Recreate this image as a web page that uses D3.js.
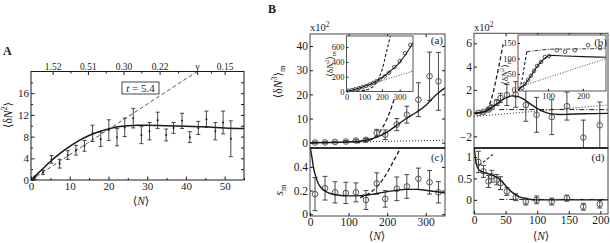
<!DOCTYPE html>
<html>
<head>
<meta charset="utf-8">
<script src="https://cdn.jsdelivr.net/npm/d3@7"></script>
<style>
body { margin: 0; background: #fff; }
text { font-family: "Liberation Serif", "DejaVu Serif", serif; fill: #1a1a1a; }
</style>
</head>
<body>
<svg id="chart"></svg>
<script>
const W = 610, H = 243;
const svg = d3.select('#chart').attr('width', W).attr('height', H);
const ink = '#1a1a1a', grey = '#555';

// ---------- panel A : <dN^2> vs <N> ----------
const aN   = [1.0, 3.1, 5.3, 7.4, 9.5, 11.6, 13.8, 15.9, 18.0, 20.1, 22.2, 24.2, 26.4, 28.5, 30.6, 32.7, 34.9, 36.8, 39.0, 41.0, 43.2, 45.3, 47.6, 49.6, 51.6];
const aVar = [0.4, 1.4, 3.8, 3.0, 4.6, 5.5, 6.3, 8.6, 7.5, 9.2, 7.9, 9.7, 11.4, 8.3, 9.0, 11.0, 8.3, 9.6, 10.9, 7.9, 9.6, 11.2, 9.0, 10.6, 7.6];
const aErr = [0.3, 0.4, 0.7, 0.8, 0.8, 0.9, 1.0, 1.5, 1.3, 1.9, 1.6, 1.7, 1.8, 1.6, 1.6, 1.5, 1.1, 1.0, 1.4, 1.0, 1.2, 1.5, 1.6, 2.1, 3.3];
const aFitN = [0, 2.5, 5, 7.5, 10, 12.5, 15, 17.5, 20, 22.5, 25, 27.5, 30, 35, 40, 45, 50, 55];
const aFitV = [0, 1.7, 3.4, 4.9, 6.2, 7.3, 8.2, 8.9, 9.4, 9.8, 10.0, 10.1, 10.1, 10.0, 9.9, 9.8, 9.6, 9.5];
const aPoisN = [0, 42.9];
const aPoisV = [0, 20];
const aTopN = [5.6, 14.7, 23.9, 33.2, 42.9, 50.0];
const aTopLabels = ['1.52', '0.51', '0.30', '0.22', 'γ', '0.15'];

// ---------- panel B left : (a) third moment, (c) s_m ----------
const bN    = [13, 39, 65, 93, 119, 145, 173, 195, 225, 251, 281, 310, 333];
const bM3   = [0.05, 0.1, 0.3, 0.5, 0.9, 1.2, 4.0, 3.3, 7.5, 11.6, 17.8, 27.5, 25.4];
const bM3e  = [0.3, 0.3, 0.3, 0.4, 0.5, 0.6, 1.5, 2.0, 2.5, 3.5, 7.0, 10.0, 12.0];
const bFitN = [0, 100, 150, 175, 200, 225, 250, 275, 300, 325, 350];
const bFitV = [0, 0.3, 1.2, 2.4, 4.4, 7.2, 10.0, 12.5, 15.4, 19.5, 22.7];
const bDashN = [120, 150, 170, 185, 200, 212, 220];
const bDashV = [0, 0.8, 2.5, 5.5, 10, 15, 19];
const bDotN = [0, 350];
const bDotV = [0, 1.0];
// inset of (a)
const biN = [10, 30, 50, 70, 90, 110, 130, 150, 170, 190, 215, 240, 270, 300, 330, 360];
const biV = [10, 20, 30, 45, 60, 75, 95, 115, 140, 165, 205, 255, 330, 410, 517, 628];
const biFitN = [0, 50, 100, 150, 200, 250, 300, 350, 375];
const biFitV = [0, 30, 68, 115, 185, 280, 395, 560, 660];
const biDashN = [0, 100, 150, 180, 200, 225, 248];
const biDashV = [0, 15, 70, 170, 290, 530, 760];
const biDotN = [0, 375];
const biDotV = [0, 275];
// (c)
const cS    = [0.17, 0.22, 0.185, 0.18, 0.185, 0.12, 0.26, 0.13, 0.215, 0.235, 0.30, 0.27, 0.185];
const cSe   = [0.14, 0.10, 0.09, 0.09, 0.08, 0.08, 0.09, 0.07, 0.10, 0.10, 0.09, 0.10, 0.09];
const cFitN = [1, 5, 10, 15, 20, 30, 45, 70, 100, 130, 160, 190, 220, 250, 275, 300, 325, 350];
const cFitV = [0.56, 0.48, 0.38, 0.32, 0.27, 0.22, 0.185, 0.163, 0.155, 0.157, 0.168, 0.185, 0.2, 0.21, 0.21, 0.203, 0.192, 0.18];
const cDashN = [130, 150, 170, 190, 205, 220, 235];
const cDashV = [0.14, 0.17, 0.22, 0.3, 0.38, 0.47, 0.56];

// ---------- panel B right : (b) third moment, (d) s_m ----------
const dN    = [7, 15, 23, 28, 36, 42, 52, 66, 82, 99, 123, 147, 173, 199];
const dM3   = [0.02, 0.1, 0.3, 0.5, 0.9, 1.3, 1.55, 1.6, 0.7, -0.15, -0.35, 0.6, -2.1, -1.05];
const dM3e  = [0.05, 0.08, 0.12, 0.15, 0.25, 0.4, 0.9, 1.1, 1.4, 1.5, 1.5, 1.2, 1.5, 2.0];
const dFitN = [0, 10, 20, 30, 40, 50, 60, 70, 80, 90, 100, 110, 120, 135, 150, 175, 212];
const dFitV = [0, 0.05, 0.2, 0.55, 0.95, 1.3, 1.48, 1.42, 1.15, 0.75, 0.4, 0.12, -0.05, -0.12, -0.1, -0.05, -0.02];
const dDashN = [0, 15, 20, 25, 30, 35, 40, 46];
const dDashV = [0, 0.1, 0.3, 0.8, 1.7, 2.9, 4.2, 5.9];
const dDotN = [0, 212];
const dDotV = [-0.3, 0.7];
const dDashDotN = [40, 212];
const dDashDotV = [0.3, 0.3];
// inset of (b)
const diN = [26, 34, 43, 51, 60, 69, 80, 91, 103, 125, 149, 177, 215, 249];
const diV = [5, 18, 31, 44, 60, 76, 89, 105, 108, 127, 122, 127, 143, 134];
const diFitN = [14, 30, 50, 70, 90, 100, 110, 150, 200, 266];
const diFitV = [0, 12, 42, 76, 100, 108, 110, 108, 106, 104];
const diDashN = [18, 25, 30, 35, 40];
const diDashV = [0, 30, 60, 95, 125];
const diDotN = [14, 266];
const diDotV = [7, 100];
const diDashDotN = [38, 100, 266];
const diDashDotV = [122, 130, 132];
// (d)
const eS    = [0.885, 0.665, 0.43, 0.55, 0.47, 0.39, 0.195, 0.063, -0.04, 0, -0.04, 0.04, -0.16, -0.1];
const eSe   = [0.25, 0.14, 0.14, 0.14, 0.12, 0.15, 0.09, 0.08, 0.08, 0.09, 0.08, 0.07, 0.08, 0.09];
const eFitN = [0.5, 2, 4, 7, 12, 20, 30, 40, 50, 60, 70, 85, 100, 212];
const eFitV = [1.2, 1.0, 0.82, 0.72, 0.66, 0.62, 0.57, 0.49, 0.33, 0.18, 0.08, 0.02, 0, 0];
const eDashN = [8, 30];
const eDashV = [0.8, 1.06];
const eDashDotN = [40, 212];
const eDashDotV = [0.01, 0.01];

// ---------- helpers ----------
let clipCount = 0;
function clipFor(xs, ys) {
  const id = 'clip' + (clipCount++);
  const [x0, x1] = xs.range(), [y1, y0] = ys.range();
  svg.append('clipPath').attr('id', id).append('rect')
    .attr('x', x0).attr('y', y0).attr('width', x1 - x0).attr('height', y1 - y0);
  return svg.append('g').attr('clip-path', `url(#${id})`);
}

function frame(xs, ys, color, sw) {
  const [x0, x1] = xs.range(), [y1, y0] = ys.range();
  svg.append('rect').attr('x', x0).attr('y', y0).attr('width', x1 - x0).attr('height', y1 - y0)
    .attr('fill', 'none').attr('stroke', color || ink).attr('stroke-width', sw || 1);
}

function axis(scale, orient, pos, values, size, labels, fs, color) {
  const maker = {bottom: d3.axisBottom, top: d3.axisTop, left: d3.axisLeft, right: d3.axisRight}[orient];
  const ax = maker(scale).tickValues(values).tickSize(-size).tickPadding(2)
    .tickFormat(labels ? (d, i) => labels[i] : () => '');
  const tr = (orient === 'bottom' || orient === 'top') ? `translate(0,${pos})` : `translate(${pos},0)`;
  const g = svg.append('g').attr('transform', tr).call(ax);
  g.select('.domain').remove();
  g.selectAll('line').attr('stroke', color || ink);
  g.selectAll('text').attr('font-size', fs || 11).attr('fill', ink);
  return g;
}

function rich(x, y, parts, fs, opts) {
  opts = opts || {};
  const t = svg.append('text').attr('x', x).attr('y', y).attr('font-size', fs)
    .attr('text-anchor', opts.anchor || 'middle');
  if (opts.rot) t.attr('transform', `rotate(${opts.rot},${x},${y})`);
  if (opts.bold) t.attr('font-weight', 'bold');
  let cur = 0;
  parts.forEach(p => {
    const s = p[0], k = p[1] || '';
    const target = k.includes('sup') ? -0.42 * fs : k.includes('sub') ? 0.3 * fs : 0;
    const ts = t.append('tspan').text(s).attr('dy', target - cur);
    if (k.includes('sup') || k.includes('sub')) ts.attr('font-size', fs * 0.7);
    if (k.includes('i')) ts.attr('font-style', 'italic');
    cur = target;
  });
  return t;
}

function curve(g, xs, ys, X, Y, dash, sw, color, kind) {
  const line = d3.line().x(d => xs(d[0])).y(d => ys(d[1]))
    .curve(kind === 'lin' ? d3.curveLinear : d3.curveMonotoneX);
  g.append('path').datum(d3.zip(X, Y)).attr('d', line)
    .attr('fill', 'none').attr('stroke', color || ink).attr('stroke-width', sw || 1.2)
    .attr('stroke-dasharray', dash || null);
}

function errorBars(g, xs, ys, X, Y, E, cap, color, sw) {
  const rows = d3.zip(X, Y, E);
  const eb = g.append('g').attr('stroke', color).attr('stroke-width', sw || 1);
  eb.selectAll('line.v').data(rows).join('line')
    .attr('x1', d => xs(d[0])).attr('x2', d => xs(d[0]))
    .attr('y1', d => ys(d[1] - d[2])).attr('y2', d => ys(d[1] + d[2]));
  eb.selectAll('line.t').data(rows).join('line')
    .attr('x1', d => xs(d[0]) - cap).attr('x2', d => xs(d[0]) + cap)
    .attr('y1', d => ys(d[1] + d[2])).attr('y2', d => ys(d[1] + d[2]));
  eb.selectAll('line.b').data(rows).join('line')
    .attr('x1', d => xs(d[0]) - cap).attr('x2', d => xs(d[0]) + cap)
    .attr('y1', d => ys(d[1] - d[2])).attr('y2', d => ys(d[1] - d[2]));
}

function circles(g, xs, ys, X, Y, r, color) {
  g.append('g').selectAll('circle').data(d3.zip(X, Y)).join('circle')
    .attr('cx', d => xs(d[0])).attr('cy', d => ys(d[1])).attr('r', r)
    .attr('fill', 'none').attr('stroke', color).attr('stroke-width', 1);
}

// ================= PANEL A =================
const xA = d3.scaleLinear([0, 55], [31, 244]);
const yA = d3.scaleLinear([0, 20], [180, 71.5]);
{
  const g = clipFor(xA, yA);
  curve(g, xA, yA, aPoisN, aPoisV, '4,2.5', 0.9, '#444', 'lin');
  errorBars(g, xA, yA, aN, aVar, aErr, 2, '#333', 0.9);
  g.append('g').selectAll('circle').data(d3.zip(aN, aVar)).join('circle')
    .attr('cx', d => xA(d[0])).attr('cy', d => yA(d[1])).attr('r', 1).attr('fill', ink);
  curve(g, xA, yA, aFitN, aFitV, null, 1.5, ink);
}
frame(xA, yA, ink, 1);
axis(xA, 'bottom', 180, [0, 10, 20, 30, 40, 50], 3.5, ['0', '10', '20', '30', '40', '50'], 11);
axis(xA, 'bottom', 180, [5, 15, 25, 35, 45, 55], 2, null);
axis(xA, 'top', 71.5, aTopN, 3.5, aTopLabels, 9.5);
axis(xA, 'top', 71.5, [10.2, 19.3, 28.5, 38, 46.5], 2, null);
axis(yA, 'left', 31, [0, 4, 8, 12, 16], 3.5, ['0', '4', '8', '12', '16'], 11);
axis(yA, 'left', 31, [2, 6, 10, 14, 18], 2, null);
axis(yA, 'right', 244, [2, 4, 6, 8, 10, 12, 14, 16, 18], 3, null);
// t box
svg.append('rect').attr('x', 122).attr('y', 82).attr('width', 37).attr('height', 12)
  .attr('fill', '#fff').attr('stroke', ink).attr('stroke-width', 0.8);
rich(140.5, 92, [['t', 'i'], [' = 5.4']], 11);
rich(12, 115, [['⟨δ'], ['N', 'i'], ['2', 'sup'], ['⟩']], 11.5, {rot: -90});
rich(141, 205, [['⟨'], ['N', 'i'], ['⟩']], 11.5);
rich(3, 55, [['A']], 12, {anchor: 'start', bold: true});
rich(268, 13, [['B']], 12, {anchor: 'start', bold: true});

// ================= PANEL B (a) =================
const xB = d3.scaleLinear([0, 350], [310, 445]);
const ya = d3.scaleLinear([-2.2, 45], [148, 34]);
{
  const g = clipFor(xB, ya);
  curve(g, xB, ya, bDotN, bDotV, '1,2', 0.9, ink, 'lin');
  curve(g, xB, ya, bDashN, bDashV, '4,2.5', 1.3, ink);
  errorBars(g, xB, ya, bN, bM3, bM3e, 2.5, '#333', 0.9);
  circles(g, xB, ya, bN, bM3, 2.8, grey);
  curve(g, xB, ya, bFitN, bFitV, null, 1.4, ink);
}
frame(xB, ya, '#444', 1);
axis(ya, 'left', 310, [0, 10, 20, 30, 40], 3, ['0', '10', '20', '30', '40'], 11.5);
axis(ya, 'right', 445, [0, 10, 20, 30, 40], 3, null);
axis(xB, 'top', 34, [100, 200, 300], 3, null);
rich(310, 31, [['x10'], ['2', 'sup']], 10.5, {anchor: 'start'});
rich(443, 44, [['(a)']], 11, {anchor: 'end'});
rich(282, 82, [['⟨δ'], ['N', 'i'], ['3', 'sup'], ['⟩'], ['m', 'sub']], 11.5, {rot: -90});

// inset (a)
const xi = d3.scaleLinear([0, 375], [346.5, 413]);
const yi = d3.scaleLinear([0, 750], [91.5, 36]);
svg.append('rect').attr('x', 346.5).attr('y', 36).attr('width', 66.5).attr('height', 55.5).attr('fill', '#fff');
{
  const g = clipFor(xi, yi);
  curve(g, xi, yi, biDotN, biDotV, '1,1.6', 0.8, ink, 'lin');
  curve(g, xi, yi, biDashN, biDashV, '3,2', 1.1, ink);
  circles(g, xi, yi, biN, biV, 1.8, grey);
  curve(g, xi, yi, biFitN, biFitV, null, 1.1, ink);
}
frame(xi, yi, '#444', 0.9);
axis(xi, 'bottom', 91.5, [0, 100, 200, 300], 2, ['0', '100', '200', '300'], 8.5);
axis(yi, 'left', 346.5, [0, 200, 400, 600], 2, ['0', '200', '400', '600'], 8.5);
rich(333, 64, [['⟨δ'], ['N', 'i'], ['2', 'sup'], ['⟩'], ['m', 'sub']], 9, {rot: -90});

// ================= PANEL B (c) =================
const yc = d3.scaleLinear([-0.015, 0.56], [216, 148]);
{
  const g = clipFor(xB, yc);
  curve(g, xB, yc, cDashN, cDashV, '4,2.5', 1.3, ink);
  errorBars(g, xB, yc, bN, cS, cSe, 2.5, '#333', 0.9);
  circles(g, xB, yc, bN, cS, 2.8, grey);
  curve(g, xB, yc, cFitN, cFitV, null, 1.4, ink);
}
frame(xB, yc, '#444', 1);
svg.append('line').attr('x1', 310).attr('x2', 445).attr('y1', 148).attr('y2', 148).attr('stroke', ink).attr('stroke-width', 1.6);
axis(yc, 'left', 310, [0, 0.2, 0.4], 3, ['0', '0.2', '0.4'], 11.5);
axis(yc, 'right', 445, [0, 0.2, 0.4], 3, null);
axis(xB, 'bottom', 216, [0, 100, 200, 300], 3, ['0', '100', '200', '300'], 11.5);
rich(437, 161, [['(c)']], 11, {anchor: 'middle'});
rich(283, 190, [['s', 'i'], ['m', 'sub']], 11.5, {rot: -90});
rich(377, 240, [['⟨'], ['N', 'i'], ['⟩']], 11.5);

// ================= PANEL B (b) =================
const xD = d3.scaleLinear([0, 212], [474, 608]);
const yb = d3.scaleLinear([-3, 6.86], [148, 33.3]);
{
  const g = clipFor(xD, yb);
  curve(g, xD, yb, dDotN, dDotV, '1,2', 0.9, ink, 'lin');
  curve(g, xD, yb, dDashDotN, dDashDotV, '5,2,1,2', 1, ink, 'lin');
  curve(g, xD, yb, dDashN, dDashV, '4,2.5', 1.3, ink);
  errorBars(g, xD, yb, dN, dM3, dM3e, 2.5, '#333', 0.9);
  circles(g, xD, yb, dN, dM3, 2.8, grey);
  curve(g, xD, yb, dFitN, dFitV, null, 1.4, ink);
}
frame(xD, yb, '#444', 1);
axis(yb, 'left', 474, [-2, 0, 2, 4, 6], 3, ['−2', '0', '2', '4', '6'], 11.5);
axis(xD, 'top', 33.3, [50, 100, 150, 200], 3, null);
rich(474, 31, [['x10'], ['2', 'sup']], 10.5, {anchor: 'start'});
rich(508, 72, [['⟨δ'], ['N', 'i'], ['2', 'sup'], ['⟩'], ['m', 'sub']], 9, {rot: -90});

// inset (b)
const xj = d3.scaleLinear([14, 266], [518, 606]);
const yj = d3.scaleLinear([-5, 176], [91, 35]);
svg.append('rect').attr('x', 518).attr('y', 35).attr('width', 88).attr('height', 56).attr('fill', '#fff');
{
  const g = clipFor(xj, yj);
  curve(g, xj, yj, diDotN, diDotV, '1,1.6', 0.8, ink, 'lin');
  curve(g, xj, yj, diDashDotN, diDashDotV, '4,1.5,1,1.5', 0.9, ink, 'lin');
  curve(g, xj, yj, diDashN, diDashV, '3,2', 1.1, ink);
  circles(g, xj, yj, diN, diV, 1.8, grey);
  curve(g, xj, yj, diFitN, diFitV, null, 1.1, ink);
}
frame(xj, yj, '#444', 0.9);
axis(xj, 'bottom', 91, [100, 200], 2, ['100', '200'], 8.5);
axis(yj, 'left', 518, [0, 50, 100, 150], 2, ['0', '50', '100', '150'], 8.5);
rich(607, 46, [['(b)']], 11, {anchor: 'end'});

// ================= PANEL B (d) =================
const yd = d3.scaleLinear([-0.33, 1.21], [214, 148]);
{
  const g = clipFor(xD, yd);
  curve(g, xD, yd, eDashDotN, eDashDotV, '5,2,1,2', 1, ink, 'lin');
  curve(g, xD, yd, eDashN, eDashV, '3,2', 1.1, ink, 'lin');
  errorBars(g, xD, yd, dN, eS, eSe, 2.5, '#333', 0.9);
  circles(g, xD, yd, dN, eS, 2.8, grey);
  curve(g, xD, yd, eFitN, eFitV, null, 1.4, ink);
}
frame(xD, yd, '#444', 1);
svg.append('line').attr('x1', 474).attr('x2', 608).attr('y1', 148).attr('y2', 148).attr('stroke', ink).attr('stroke-width', 1.6);
axis(yd, 'left', 474, [0, 0.5, 1], 3, ['0', '0.5', '1'], 11.5);
axis(xD, 'bottom', 214, [0, 50, 100, 150, 200], 3, ['0', '50', '100', '150', '200'], 11.5);
rich(598, 161, [['(d)']], 11, {anchor: 'middle'});
rich(541, 240, [['⟨'], ['N', 'i'], ['⟩']], 11.5);
</script>
</body>
</html>
